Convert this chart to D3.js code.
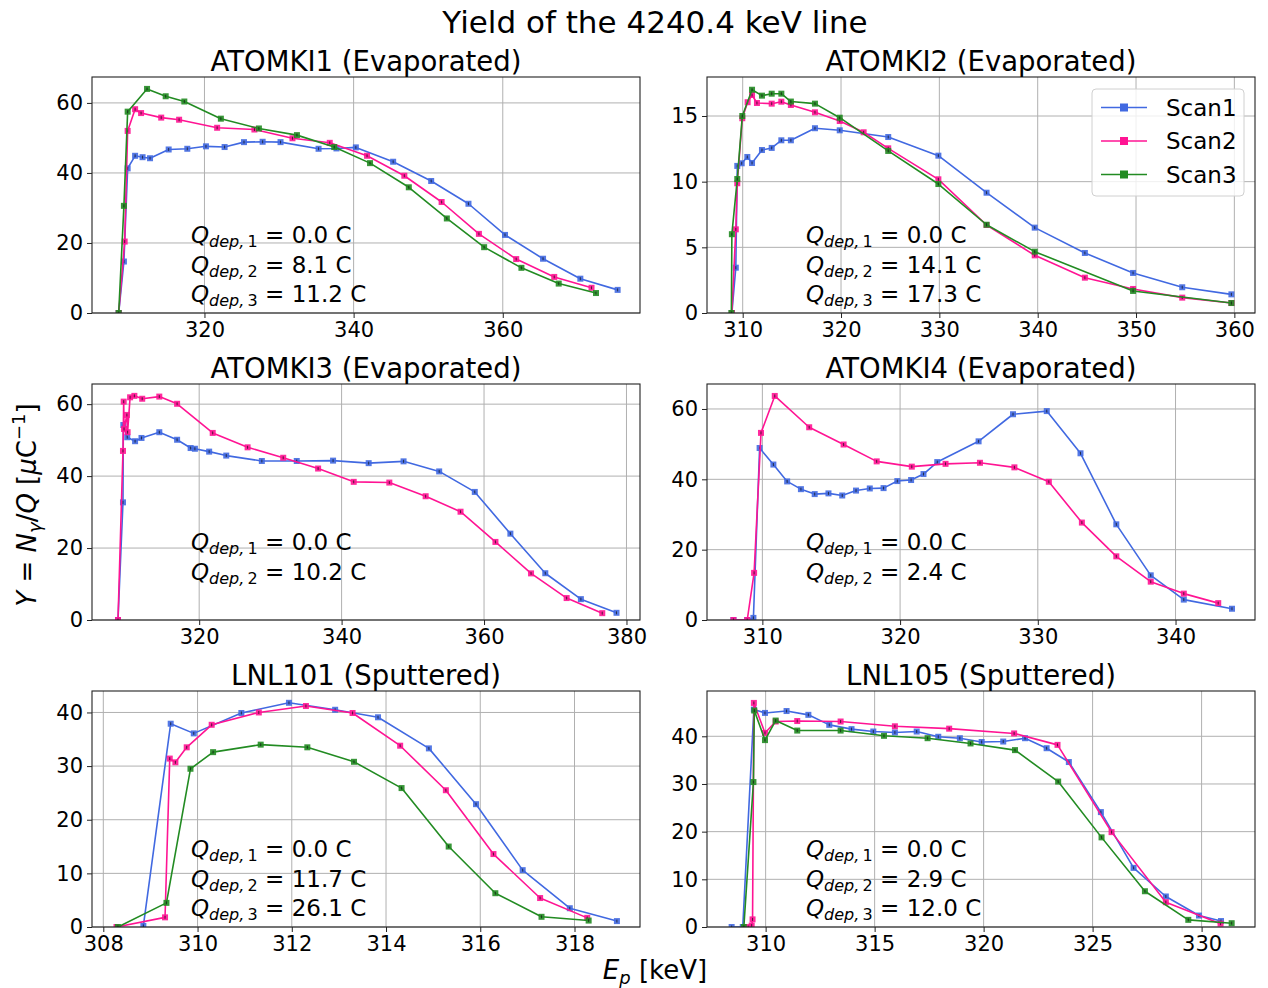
<!DOCTYPE html>
<html>
<head>
<meta charset="utf-8">
<script src="https://cdn.jsdelivr.net/npm/d3@7"></script>
<style>
  body { margin: 0; background: #fff; }
  svg { display: block; }
  text { font-family: "DejaVu Sans", sans-serif; }
</style>
</head>
<body>
<svg id="fig" width="1268" height="988"></svg>
<script>
// ---- Yield data: [Ep (keV), Y (1/uC)] ----
const atomki1Scan1 = [[308.5,0],[309.2,14.7],[309.7,41.3],[310.7,44.9],[311.7,44.5],[312.7,44.2],[315.2,46.7],[317.7,46.9],[320.2,47.6],[322.7,47.4],[325.3,48.8],[327.8,48.9],[330.2,48.8],[335.3,46.9],[337.7,47.0],[340.3,47.3],[345.3,43.2],[350.4,37.7],[355.4,31.2],[360.3,22.3],[365.4,15.5],[370.4,9.8],[375.4,6.6]];
const atomki1Scan2 = [[308.5,0],[309.3,20.4],[309.7,52.0],[310.7,58.2],[311.5,57.1],[314.2,55.8],[316.6,55.2],[321.7,52.9],[326.7,52.4],[331.8,49.9],[336.8,48.6],[341.8,44.9],[346.8,39.2],[351.8,31.7],[356.8,22.6],[361.8,15.4],[366.9,10.3],[371.9,7.2]];
const atomki1Scan3 = [[308.5,0],[309.2,30.6],[309.7,57.5],[312.3,64.0],[314.8,61.9],[317.3,60.4],[322.2,55.5],[327.3,52.7],[332.4,50.8],[337.4,47.4],[342.2,42.8],[347.4,35.9],[352.5,27.0],[357.5,18.8],[362.5,12.9],[367.5,8.4],[372.5,5.7]];

const atomki2Scan1 = [[308.9,0],[309.3,3.45],[309.45,11.2],[309.9,11.4],[310.47,11.88],[310.95,11.42],[311.96,12.41],[312.95,12.57],[313.93,13.15],[314.9,13.15],[317.35,14.07],[319.87,13.91],[324.8,13.4],[329.9,11.98],[334.8,9.16],[339.7,6.5],[344.8,4.57],[349.7,3.05],[354.7,1.96],[359.7,1.42]];
const atomki2Scan2 = [[308.9,0],[309.3,6.37],[309.45,9.88],[309.96,14.83],[310.5,16.05],[310.95,16.6],[311.45,15.99],[312.95,15.94],[313.93,16.09],[314.9,15.84],[317.35,15.28],[319.87,14.62],[322.3,13.76],[324.8,12.54],[329.9,10.18],[334.8,6.7],[339.7,4.39],[344.8,2.69],[349.7,1.83],[354.7,1.17],[359.7,0.76]];
const atomki2Scan3 = [[308.85,0],[308.9,6.0],[309.45,10.2],[309.96,15.0],[310.95,17.0],[311.96,16.55],[312.95,16.7],[313.93,16.7],[314.9,16.1],[317.35,15.94],[319.87,14.87],[324.8,12.34],[329.9,9.82],[334.8,6.72],[339.7,4.67],[349.7,1.68],[359.7,0.76]];

const atomki3Scan1 = [[308.6,0],[309.3,32.7],[309.35,54.2],[309.9,50.8],[311.0,49.7],[311.9,50.6],[314.4,52.2],[316.9,50.1],[318.8,47.8],[319.4,47.6],[321.4,46.8],[323.8,45.7],[328.8,44.2],[333.7,44.2],[338.8,44.3],[343.8,43.6],[348.7,44.1],[353.7,41.3],[358.7,35.6],[363.7,24.0],[368.6,13.0],[373.6,5.8],[378.6,2.0]];
const atomki3Scan2 = [[308.6,0],[309.3,47.0],[309.4,60.7],[309.45,53.1],[309.85,57.0],[309.95,52.2],[310.3,61.9],[310.9,62.3],[312.0,61.5],[314.4,62.1],[316.9,60.1],[321.9,52.0],[326.8,48.0],[331.8,45.1],[336.7,42.1],[341.7,38.4],[346.7,38.2],[351.8,34.4],[356.7,30.1],[361.6,21.7],[366.6,12.96],[371.6,6.1],[376.6,1.9]];

const atomki4Scan1 = [[307.9,0],[308.9,0],[309.35,0.6],[309.8,48.9],[310.8,44.2],[311.8,39.4],[312.8,37.2],[313.8,35.8],[314.8,36.0],[315.8,35.4],[316.8,36.8],[317.8,37.4],[318.8,37.5],[319.8,39.5],[320.8,39.8],[321.7,41.5],[322.7,44.9],[325.7,50.8],[328.2,58.5],[330.65,59.4],[333.1,47.4],[335.7,27.2],[338.2,12.7],[340.6,5.8],[344.1,3.2]];
const atomki4Scan2 = [[307.9,0],[308.9,0],[309.4,13.4],[309.9,53.2],[310.9,63.7],[313.4,54.8],[315.9,49.9],[318.3,45.1],[320.85,43.6],[323.3,44.4],[325.8,44.7],[328.3,43.4],[330.8,39.3],[333.2,27.7],[335.7,18.1],[338.2,10.9],[340.6,7.5],[343.1,4.8]];

const lnl101Scan1 = [[308.85,0.2],[309.43,37.9],[309.92,36.1],[310.93,39.9],[311.94,41.8],[312.92,40.5],[313.83,39.1],[314.91,33.3],[315.91,22.9],[316.9,10.6],[317.9,3.5],[318.9,1.1]];
const lnl101Scan2 = [[308.28,0],[309.31,1.8],[309.41,31.4],[309.53,30.7],[309.77,33.5],[310.3,37.7],[311.3,40.0],[312.3,41.2],[313.29,39.9],[314.3,33.8],[315.27,25.5],[316.28,13.6],[317.27,5.4],[318.27,1.7]];
const lnl101Scan3 = [[308.31,0],[309.34,4.5],[309.85,29.5],[310.33,32.6],[311.34,34.0],[312.33,33.5],[313.32,30.8],[314.33,25.9],[315.33,15.0],[316.32,6.3],[317.3,1.9],[318.3,1.2]];

const lnl105Scan1 = [[308.44,0],[308.95,0],[309.46,45.6],[309.97,44.9],[310.96,45.3],[311.96,44.5],[312.92,42.4],[313.94,41.5],[314.94,41.0],[315.93,40.8],[316.93,41.0],[317.92,39.9],[318.91,39.6],[319.91,38.8],[320.9,38.9],[321.9,39.6],[322.89,37.5],[323.91,34.6],[325.38,24.1],[326.88,12.4],[328.36,6.4],[329.88,2.4],[330.89,1.25]];
const lnl105Scan2 = [[309.2,0],[309.36,0.3],[309.4,1.6],[309.46,47.0],[309.97,40.7],[310.46,43.1],[311.45,43.2],[313.44,43.1],[315.93,42.1],[318.42,41.6],[321.4,40.6],[323.39,38.2],[325.87,19.9],[328.36,5.2],[330.87,0.7]];
const lnl105Scan3 = [[309.0,0],[309.44,30.4],[309.48,45.4],[309.97,39.2],[310.46,43.3],[311.45,41.2],[313.44,41.2],[315.43,40.1],[317.43,39.6],[319.4,38.5],[321.44,37.1],[323.42,30.5],[325.41,18.8],[327.4,7.5],[329.39,1.5],[331.38,0.8]];

// Deposited charge per scan (C)
const atomki1Charges = ["0.0", "8.1", "11.2"];
const atomki2Charges = ["0.0", "14.1", "17.3"];
const atomki3Charges = ["0.0", "10.2"];
const atomki4Charges = ["0.0", "2.4"];
const lnl101Charges = ["0.0", "11.7", "26.1"];
const lnl105Charges = ["0.0", "2.9", "12.0"];

const scanNames = ["Scan1", "Scan2", "Scan3"];
const scanColors = ["#4169e1", "#ff1493", "#228b22"];

// ---- Layout ----
const svg = d3.select("#fig");
const colX = [92, 707];
const rowY = [77, 384, 691];
const W = 548, H = 236;
const FONT = "DejaVu Sans, sans-serif";

const panels = [
  { title: "ATOMKI1 (Evaporated)", col: 0, row: 0, series: [atomki1Scan1, atomki1Scan2, atomki1Scan3],
    xDom: [304.92, 378.4], yDom: [0, 67.4], xTicks: [320, 340, 360], yTicks: [0, 20, 40, 60], charges: atomki1Charges },
  { title: "ATOMKI2 (Evaporated)", col: 1, row: 0, series: [atomki2Scan1, atomki2Scan2, atomki2Scan3],
    xDom: [306.37, 362.1], yDom: [0, 17.97], xTicks: [310, 320, 330, 340, 350, 360], yTicks: [0, 5, 10, 15], charges: atomki2Charges, legend: true },
  { title: "ATOMKI3 (Evaporated)", col: 0, row: 1, series: [atomki3Scan1, atomki3Scan2],
    xDom: [304.95, 381.9], yDom: [0, 65.6], xTicks: [320, 340, 360, 380], yTicks: [0, 20, 40, 60], charges: atomki3Charges },
  { title: "ATOMKI4 (Evaporated)", col: 1, row: 1, series: [atomki4Scan1, atomki4Scan2],
    xDom: [305.98, 345.77], yDom: [0, 67.1], xTicks: [310, 320, 330, 340], yTicks: [0, 20, 40, 60], charges: atomki4Charges },
  { title: "LNL101 (Sputtered)", col: 0, row: 2, series: [lnl101Scan1, lnl101Scan2, lnl101Scan3],
    xDom: [307.76, 319.39], yDom: [0, 44.0], xTicks: [308, 310, 312, 314, 316, 318], yTicks: [0, 10, 20, 30, 40], charges: lnl101Charges },
  { title: "LNL105 (Sputtered)", col: 1, row: 2, series: [lnl105Scan1, lnl105Scan2, lnl105Scan3],
    xDom: [307.31, 332.45], yDom: [0, 49.5], xTicks: [310, 315, 320, 325, 330], yTicks: [0, 10, 20, 30, 40], charges: lnl105Charges }
];

const defs = svg.append("defs");

panels.forEach((p, pi) => {
  const left = colX[p.col], top = rowY[p.row];
  const g = svg.append("g").attr("transform", `translate(${left},${top})`);
  const x = d3.scaleLinear().domain(p.xDom).range([0, W]);
  const y = d3.scaleLinear().domain(p.yDom).range([H, 0]);

  defs.append("clipPath").attr("id", "clip" + pi)
    .append("rect").attr("width", W).attr("height", H);

  // grid
  const grid = g.append("g").attr("stroke", "#b0b0b0").attr("stroke-width", 1);
  grid.selectAll("line.gx").data(p.xTicks).join("line").attr("class", "gx")
    .attr("x1", d => x(d)).attr("x2", d => x(d)).attr("y1", 0).attr("y2", H);
  grid.selectAll("line.gy").data(p.yTicks).join("line").attr("class", "gy")
    .attr("x1", 0).attr("x2", W).attr("y1", d => y(d)).attr("y2", d => y(d));

  // series
  const plot = g.append("g").attr("clip-path", `url(#clip${pi})`);
  const line = d3.line().x(d => x(d[0])).y(d => y(d[1]));
  p.series.forEach((s, i) => {
    plot.append("path").datum(s).attr("d", line)
      .attr("fill", "none").attr("stroke", scanColors[i]).attr("stroke-width", 1.6)
      .attr("stroke-linejoin", "round");
    const m = plot.append("g");
    m.selectAll("rect").data(s).join("rect")
      .attr("x", d => x(d[0]) - 3).attr("y", d => y(d[1]) - 3)
      .attr("width", 6).attr("height", 6).attr("fill", scanColors[i]).attr("opacity", 0.9);
    // small error bars
    m.selectAll("line").data(s).join("line")
      .attr("x1", d => x(d[0])).attr("x2", d => x(d[0]))
      .attr("y1", d => y(d[1]) - 1.5).attr("y2", d => y(d[1]) + 1.5)
      .attr("stroke", "#1a1a1a").attr("stroke-width", 1).attr("opacity", 0.75);
  });

  // spines
  g.append("rect").attr("width", W).attr("height", H)
    .attr("fill", "none").attr("stroke", "#222").attr("stroke-width", 1.1);

  // axes
  const xa = g.append("g").attr("transform", `translate(0,${H})`)
    .call(d3.axisBottom(x).tickValues(p.xTicks).tickSize(5).tickPadding(4).tickFormat(d3.format("d")));
  const ya = g.append("g")
    .call(d3.axisLeft(y).tickValues(p.yTicks).tickSize(5).tickPadding(4).tickFormat(d3.format("d")));
  [xa, ya].forEach(a => {
    a.select(".domain").remove();
    a.attr("font-size", 21).attr("font-family", FONT).attr("color", "#222");
    a.selectAll("text").attr("fill", "#000");
  });

  // title
  g.append("text").attr("x", W / 2).attr("y", -6).attr("text-anchor", "middle")
    .attr("font-size", 27.5).attr("fill", "#000").text(p.title);

  // deposited charge annotations
  p.charges.forEach((c, k) => {
    const t = g.append("text").attr("x", 99).attr("y", 166 + 29.5 * k)
      .attr("font-size", 23).attr("fill", "#000");
    t.append("tspan").attr("font-style", "italic").text("Q");
    t.append("tspan").attr("font-size", 16).attr("dy", 4).attr("font-style", "italic").text("dep,\u2009");
    t.append("tspan").attr("font-size", 16).text(String(k + 1));
    t.append("tspan").attr("dy", -4).text(` = ${c} C`);
  });

  // legend
  if (p.legend) {
    const lg = g.append("g").attr("transform", `translate(${1092 - left},${89 - top})`);
    lg.append("rect").attr("width", 152).attr("height", 107).attr("rx", 4)
      .attr("fill", "#fff").attr("fill-opacity", 0.8).attr("stroke", "#d0d0d0");
    scanNames.forEach((n, i) => {
      const cy = 18.5 + 33.5 * i;
      lg.append("line").attr("x1", 9).attr("x2", 55).attr("y1", cy).attr("y2", cy)
        .attr("stroke", scanColors[i]).attr("stroke-width", 1.6);
      lg.append("rect").attr("x", 28).attr("y", cy - 4).attr("width", 8).attr("height", 8)
        .attr("fill", scanColors[i]);
      lg.append("text").attr("x", 74).attr("y", cy + 8.3).attr("font-size", 23)
        .attr("fill", "#000").text(n);
    });
  }
});

// figure title
svg.append("text").attr("x", 655).attr("y", 33).attr("text-anchor", "middle")
  .attr("font-size", 31).attr("fill", "#000").text("Yield of the 4240.4 keV line");

// x label
const xl = svg.append("text").attr("x", 655).attr("y", 979).attr("text-anchor", "middle")
  .attr("font-size", 26).attr("fill", "#000");
xl.append("tspan").attr("font-style", "italic").text("E");
xl.append("tspan").attr("font-style", "italic").attr("font-size", 18).attr("dy", 5).text("p");
xl.append("tspan").attr("dy", -5).text(" [keV]");

// y label
const yl = svg.append("text").attr("transform", "translate(36,505) rotate(-90)")
  .attr("text-anchor", "middle").attr("font-size", 26).attr("fill", "#000");
yl.append("tspan").attr("font-style", "italic").text("Y");
yl.append("tspan").text(" = ");
yl.append("tspan").attr("font-style", "italic").text("N");
yl.append("tspan").attr("font-style", "italic").attr("font-size", 18).attr("dy", 5).text("γ");
yl.append("tspan").attr("dy", -5).text("/");
yl.append("tspan").attr("font-style", "italic").text("Q");
yl.append("tspan").text(" [");
yl.append("tspan").attr("font-style", "italic").text("μ");
yl.append("tspan").text("C");
yl.append("tspan").attr("font-size", 18).attr("dy", -11).text("−1");
yl.append("tspan").attr("dy", 11).text("]");
</script>
</body>
</html>
